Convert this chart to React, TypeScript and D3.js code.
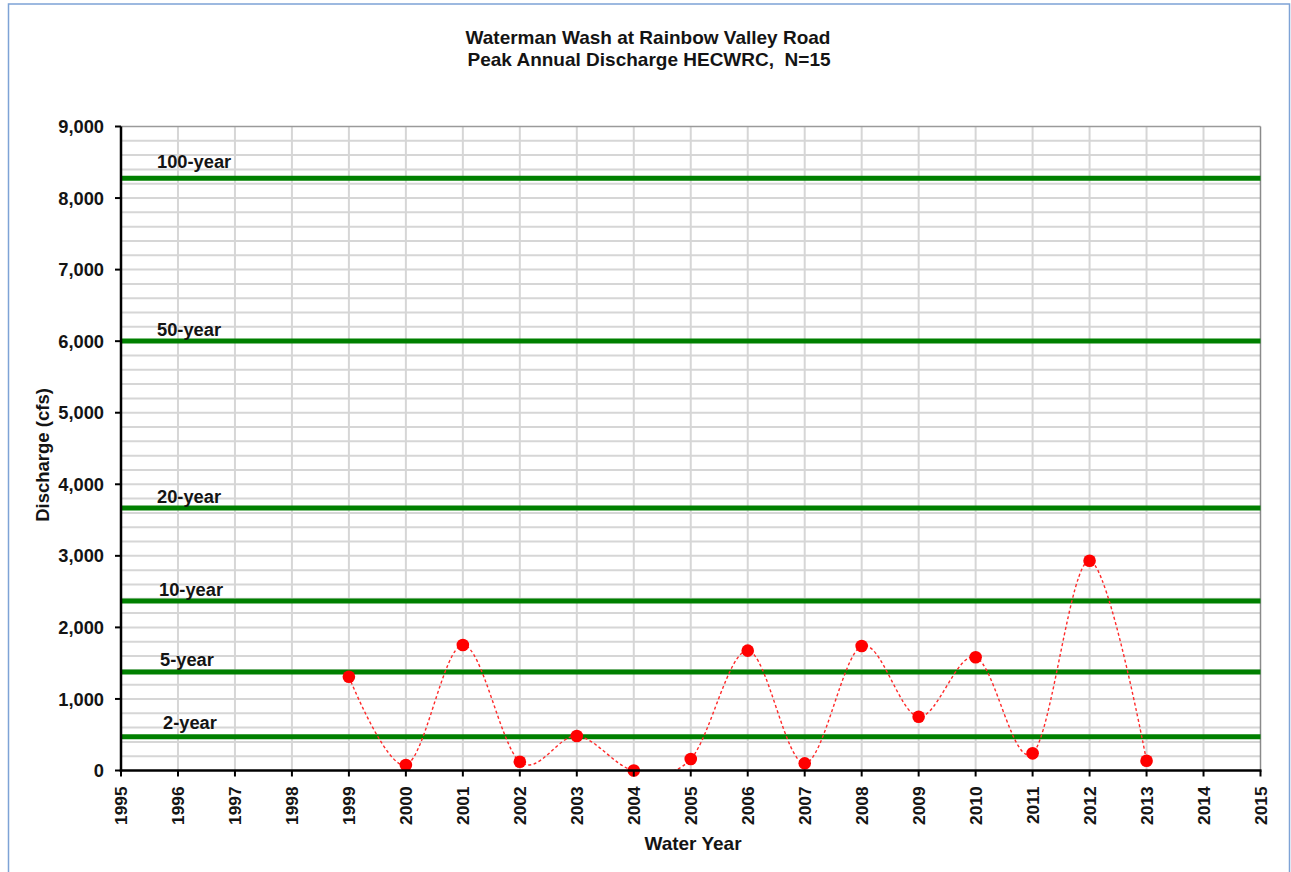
import React from "react";
import * as d3 from "d3";

const years = [1999, 2000, 2001, 2002, 2003, 2004, 2005, 2006, 2007, 2008, 2009, 2010, 2011, 2012, 2013];
const discharge = [1310, 77, 1754, 123, 482, 0, 160, 1675, 100, 1740, 752, 1582, 240, 2932, 137];

const returnLabels = ["100-year", "50-year", "20-year", "10-year", "5-year", "2-year"];
const returnValues = [8277, 6003, 3669, 2369, 1375, 472];

const yTicks = [0, 1000, 2000, 3000, 4000, 5000, 6000, 7000, 8000, 9000];
const xTicks = d3.range(1995, 2016);

const W = 1291;
const H = 872;
const FONT = "'Liberation Sans', Arial, sans-serif";
const TXT = "#141414";

export default function App() {
  const x = d3.scaleLinear().domain([1995, 2015]).range([121, 1260.5]);
  const y = d3.scaleLinear().domain([0, 9000]).range([770.5, 126.5]);

  const minorY = d3.range(200, 9000, 200);
  const line = d3
    .line<number>()
    .x((_, i) => x(years[i]))
    .y((d) => y(d))
    .curve(d3.curveCatmullRom.alpha(0));

  const labelDy = [-10, -5, -5, -5, -6, -8];
  const labelDx = [36, 36, 36, 38, 39, 42];

  return (
    <svg
      width={W}
      height={H}
      style={{ position: "absolute", left: 0, top: 0, background: "#fff" }}
      fontFamily={FONT}
    >
      <defs>
        <clipPath id="plotclip">
          <rect x={x(1995)} y={y(9000)} width={x(2015) - x(1995)} height={y(0) - y(9000)} />
        </clipPath>
      </defs>
      <rect x={0} y={0} width={W} height={H} fill="#fff" />
      <rect x={8.5} y={4} width={1281} height={900} fill="none" stroke="#7ea3d6" strokeWidth={1.5} />

      {/* title */}
      <text x={648} y={44} textAnchor="middle" fontSize={19} fontWeight="bold" fill={TXT}>
        Waterman Wash at Rainbow Valley Road
      </text>
      <text x={649} y={65.5} textAnchor="middle" fontSize={19} fontWeight="bold" fill={TXT} style={{ whiteSpace: "pre" }}>
        {"Peak Annual Discharge HECWRC,  N=15"}
      </text>

      {/* grid */}
      <g stroke="#d6d6d6" strokeWidth={2}>
        {minorY.map((v) => (
          <line key={"h" + v} x1={x(1995)} x2={x(2015)} y1={y(v)} y2={y(v)} />
        ))}
        {xTicks.slice(1, -1).map((v) => (
          <line key={"v" + v} x1={x(v)} x2={x(v)} y1={y(0)} y2={y(9000)} />
        ))}
      </g>
      {/* plot border top/right */}
      <line x1={x(1995)} x2={x(2015)} y1={y(9000)} y2={y(9000)} stroke="#9a9a9a" strokeWidth={1.5} />
      <line x1={x(2015)} x2={x(2015)} y1={y(9000)} y2={y(0)} stroke="#8a8a8a" strokeWidth={1.5} />

      {/* return period lines */}
      {returnValues.map((v, i) => (
        <line key={"r" + i} x1={x(1995)} x2={x(2015)} y1={y(v)} y2={y(v)} stroke="#008000" strokeWidth={5} />
      ))}

      {/* data curve */}
      <path
        d={line(discharge) || ""}
        fill="none"
        stroke="#ff2a2a"
        strokeWidth={1.4}
        strokeDasharray="3,2.5"
        clipPath="url(#plotclip)"
      />
      {discharge.map((v, i) => (
        <circle key={"p" + i} cx={x(years[i])} cy={y(v)} r={6.3} fill="#ff0000" />
      ))}

      {/* return labels */}
      {returnLabels.map((t, i) => (
        <text
          key={"l" + i}
          x={x(1995) + labelDx[i]}
          y={y(returnValues[i]) + labelDy[i]}
          fontSize={18.3}
          fontWeight="bold"
          fill={TXT}
        >
          {t}
        </text>
      ))}

      {/* axes */}
      <line x1={x(1995)} x2={x(1995)} y1={y(9000)} y2={y(0) + 1.25} stroke="#000" strokeWidth={2.5} />
      <line x1={x(1995) - 1.25} x2={x(2015) + 1} y1={y(0)} y2={y(0)} stroke="#000" strokeWidth={2.5} />
      {yTicks.map((v) => (
        <g key={"yt" + v}>
          <line x1={x(1995) - 6} x2={x(1995)} y1={y(v)} y2={y(v)} stroke="#000" strokeWidth={2} />
          <text
            x={104}
            y={y(v)}
            dy="0.36em"
            textAnchor="end"
            fontSize={18.3}
            fontWeight="bold"
            fill={TXT}
          >
            {d3.format(",")(v)}
          </text>
        </g>
      ))}
      {xTicks.map((v) => (
        <g key={"xt" + v}>
          <line x1={x(v)} x2={x(v)} y1={y(0)} y2={y(0) + 6} stroke="#000" strokeWidth={2} />
          <text
            transform={`translate(${x(v)},${y(0) + 16}) rotate(-90)`}
            dy="0.36em"
            textAnchor="end"
            fontSize={17.3}
            fontWeight="bold"
            fill={TXT}
          >
            {v}
          </text>
        </g>
      ))}

      {/* axis titles */}
      <text x={693} y={850} textAnchor="middle" fontSize={19} fontWeight="bold" fill={TXT}>
        Water Year
      </text>
      <text
        transform={`translate(49,455) rotate(-90)`}
        textAnchor="middle"
        fontSize={18.5}
        fontWeight="bold"
        fill={TXT}
      >
        Discharge (cfs)
      </text>
    </svg>
  );
}
